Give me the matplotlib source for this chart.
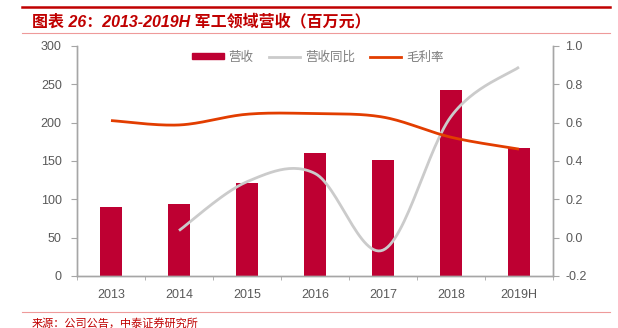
import numpy as np
import matplotlib
matplotlib.use('Agg')
import matplotlib.pyplot as plt
from matplotlib.patches import Patch
from matplotlib.lines import Line2D

plt.rcParams['font.family'] = ['Liberation Sans', 'Noto Sans CJK SC', 'DejaVu Sans']
plt.rcParams['axes.unicode_minus'] = False

# data
years = ['2013', '2014', '2015', '2016', '2017', '2018', '2019H']
revenue = [90.4, 93.5, 121.0, 160.5, 151.5, 242.5, 167.5]        # 营收 (百万元)
growth = [np.nan, 0.037, 0.292, 0.335, -0.065, 0.632, 0.89]      # 营收同比
margin = [0.611, 0.588, 0.644, 0.647, 0.629, 0.524, 0.462]       # 毛利率

BAR = '#BE0032'
GREY_LINE = '#CBCBCB'
ORANGE = '#E23D00'
AXIS = '#A6A6A6'
TXT = '#595959'
RED = '#C00000'


def smooth(x, y, n=30):
    # excel style smoothed line (catmull-rom through the points)
    x = np.asarray(x, float)
    y = np.asarray(y, float)
    px = np.concatenate([[x[0]], x, [x[-1]]])
    py = np.concatenate([[y[0]], y, [y[-1]]])
    xs, ys = [], []
    for i in range(1, len(px) - 2):
        t = np.linspace(0, 1, n)
        h00 = 2 * t**3 - 3 * t**2 + 1
        h10 = t**3 - 2 * t**2 + t
        h01 = -2 * t**3 + 3 * t**2
        h11 = t**3 - t**2
        mx0 = (px[i + 1] - px[i - 1]) / 2
        mx1 = (px[i + 2] - px[i]) / 2
        my0 = (py[i + 1] - py[i - 1]) / 2
        my1 = (py[i + 2] - py[i]) / 2
        xs.append(h00 * px[i] + h10 * mx0 + h01 * px[i + 1] + h11 * mx1)
        ys.append(h00 * py[i] + h10 * my0 + h01 * py[i + 1] + h11 * my1)
    return np.concatenate(xs), np.concatenate(ys)


fig = plt.figure(figsize=(6.18, 3.28), dpi=100)
ax = fig.add_axes([77 / 618, 1 - 276 / 328, 476 / 618, 230 / 328])
ax2 = ax.twinx()

x = np.arange(len(years))
ax.bar(x, revenue, width=0.31, color=BAR, zorder=2)

ax.set_xlim(-0.5, len(years) - 0.5)
ax.set_ylim(0, 300)
ax.set_yticks(np.arange(0, 301, 50))
ax2.set_ylim(-0.2, 1.0)
ax2.set_yticks(np.arange(-0.2, 1.01, 0.2))
ax2.set_yticklabels(['%.1f' % v for v in np.arange(-0.2, 1.01, 0.2)])

# growth line (skip first missing year)
gx = x[1:]
gy = np.array(growth[1:])
sx, sy = smooth(gx, gy)
ax2.plot(sx, sy, color=GREY_LINE, lw=2, solid_capstyle='butt')
mx, my = smooth(x, margin)
ax2.plot(mx, my, color=ORANGE, lw=2, solid_capstyle='butt')

ax.set_xticks(x)
ax.set_xticklabels(years)
ax.set_xticks(np.arange(-0.5, len(years), 1.0), minor=True)
ax.tick_params(axis='x', which='major', length=0, pad=9, labelsize=9, labelcolor=TXT)
ax.tick_params(axis='x', which='minor', length=3, color=AXIS, direction='out')
ax.tick_params(axis='y', length=4, color=AXIS, pad=7, labelsize=9, labelcolor=TXT)
ax2.tick_params(axis='y', length=4, color=AXIS, pad=5, labelsize=9, labelcolor=TXT)

for a in (ax, ax2):
    a.spines['top'].set_visible(False)
    for s in ('left', 'right', 'bottom'):
        a.spines[s].set_color(AXIS)
        a.spines[s].set_linewidth(1)

handles = [Patch(color=BAR, label='营收'),
           Line2D([], [], color=GREY_LINE, lw=2, label='营收同比'),
           Line2D([], [], color=ORANGE, lw=2, label='毛利率')]
leg = fig.legend(handles=handles, loc='center', bbox_to_anchor=(318 / 618, 1 - 57 / 328),
                 ncol=3, frameon=False, handlelength=2.5, handleheight=0.4,
                 handletextpad=0.4, columnspacing=1.2, prop={'family': ['Noto Sans CJK SC'], 'size': 9})
for t in leg.get_texts():
    t.set_color('#7F7F7F')

# header / footer decoration
fig.add_artist(Line2D([22 / 618, 610 / 618], [1 - 6.5 / 328] * 2, color=RED, lw=1.8))
fig.add_artist(Line2D([22 / 618, 610 / 618], [1 - 33.3 / 328] * 2, color='#EE9A9A', lw=0.8))
fig.add_artist(Line2D([22 / 618, 610 / 618], [1 - 311.7 / 328] * 2, color='#EE9A9A', lw=0.8))

fig.text(32 / 618, 1 - 21.5 / 328, '图表 26：2013-2019H 军工领域营收（百万元）', color=RED,
         fontsize=11.5, fontweight='bold', fontstyle='italic', va='center', ha='left',
         family=['Liberation Sans', 'Noto Sans CJK SC'])
fig.text(32 / 618, 1 - 323 / 328, '来源：公司公告，中泰证券研究所', color=RED, fontsize=8,
         va='center', ha='left', family=['Noto Sans CJK SC'])

fig.savefig('out.png', dpi=100)
